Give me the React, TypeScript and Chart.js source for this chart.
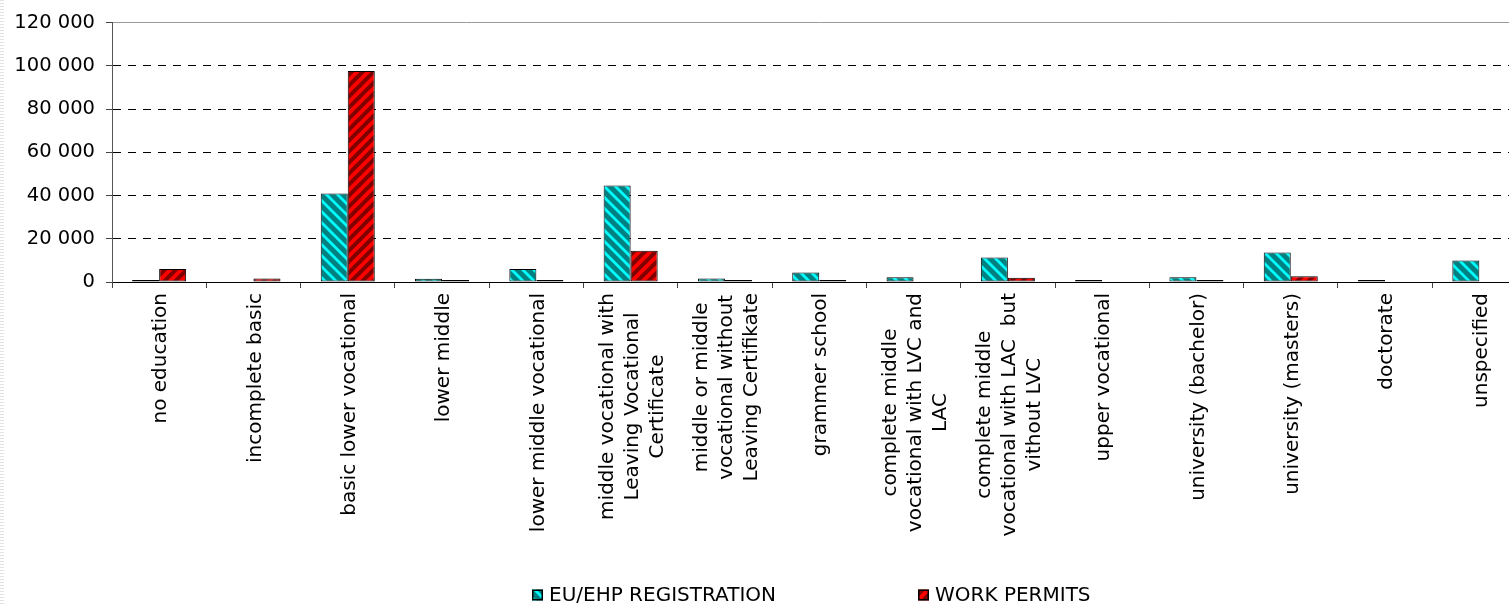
import React, { useEffect, useRef } from "react";
import { Chart, registerables } from "chart.js";

Chart.register(...registerables);

const FONT_FAMILY = '"DejaVu Sans", Verdana, sans-serif';

// Education levels (x categories), pre-wrapped into lines
const categories: string[][] = [
  ["no education"],
  ["incomplete basic"],
  ["basic lower vocational"],
  ["lower middle"],
  ["lower middle vocational"],
  ["middle vocational with", "Leaving Vocational", "Certificate"],
  ["middle or middle", "vocational without", "Leaving Certifikate"],
  ["grammer school"],
  ["complete middle", "vocational with LVC and", "LAC"],
  ["complete middle", "vocational with LAC  but", "vithout LVC"],
  ["upper vocational"],
  ["university (bachelor)"],
  ["university (masters)"],
  ["doctorate"],
  ["unspecified"],
];

const seriesNames = ["EU/EHP REGISTRATION", "WORK PERMITS"];

const euRegistration = [900, 0, 41000, 1500, 6000, 44700, 1600, 4400, 2200, 11300, 900, 2200, 13600, 900, 10000];
const workPermits = [6000, 1650, 97600, 900, 900, 14500, 900, 900, 0, 2000, 0, 900, 2700, 0, 0];

const yTicks = [0, 20000, 40000, 60000, 80000, 100000, 120000];

const formatThousands = (v: number) => String(v).replace(/\B(?=(\d{3})+(?!\d))/g, " ");

function stripePattern(base: string, stripe: string, width: number, dir: "down" | "up"): CanvasPattern | string {
  const S = 11;
  const c = document.createElement("canvas");
  c.width = S;
  c.height = S;
  const g = c.getContext("2d");
  if (!g) return base;
  g.fillStyle = base;
  g.fillRect(0, 0, S, S);
  g.strokeStyle = stripe;
  g.lineWidth = width;
  g.beginPath();
  for (let k = -1; k <= 1; k++) {
    if (dir === "down") {
      g.moveTo(k * S - 1, -1);
      g.lineTo(k * S + S + 1, S + 1);
    } else {
      g.moveTo(k * S - 1, S + 1);
      g.lineTo(k * S + S + 1, -1);
    }
  }
  g.stroke();
  return g.createPattern(c, "repeat") || base;
}

// Rotated, centre-aligned multi-line category labels hung under the x axis
const categoryLabelsPlugin = {
  id: "categoryLabels",
  afterDraw(chart: any) {
    const xs = chart.scales.x;
    const ctx: CanvasRenderingContext2D = chart.ctx;
    const top = chart.chartArea.bottom + 11;
    const lineH = 25;
    ctx.save();
    ctx.font = `20px ${FONT_FAMILY}`;
    ctx.fillStyle = "#000";
    ctx.textAlign = "center";
    ctx.textBaseline = "middle";
    (chart.data.labels as string[][]).forEach((lines, i) => {
      const x = xs.getPixelForTick(i) + 2;
      const maxW = Math.max(...lines.map((l) => ctx.measureText(l).width));
      ctx.save();
      ctx.translate(x, top + maxW / 2);
      ctx.rotate(-Math.PI / 2);
      const n = lines.length;
      lines.forEach((ln, j) => ctx.fillText(ln, 0, (j - (n - 1) / 2) * lineH));
      ctx.restore();
    });
    ctx.restore();
  },
};

// Legend row under the labels
const legendRowPlugin = {
  id: "legendRow",
  afterDraw(chart: any) {
    const ctx: CanvasRenderingContext2D = chart.ctx;
    const startX = 532;
    const gap = 386;
    const cy = 595;
    const box = 11;
    ctx.save();
    ctx.font = `20px ${FONT_FAMILY}`;
    ctx.textAlign = "left";
    ctx.textBaseline = "middle";
    chart.data.datasets.forEach((ds: any, i: number) => {
      const bx = startX + i * gap;
      ctx.fillStyle = ds.backgroundColor;
      ctx.fillRect(bx, cy - box / 2, box, box);
      ctx.strokeStyle = "#000";
      ctx.lineWidth = 1.5;
      ctx.strokeRect(bx + 0.75, cy - box / 2 + 0.75, box - 1.5, box - 1.5);
      ctx.fillStyle = "#000";
      ctx.fillText(ds.label, bx + box + 6, cy + 1);
    });
    ctx.restore();
  },
};

// Faint dotted frame edge on the far left
const frameEdgePlugin = {
  id: "frameEdge",
  beforeDraw(chart: any) {
    const ctx: CanvasRenderingContext2D = chart.ctx;
    ctx.save();
    ctx.fillStyle = "#e2e2e2";
    for (let y = 0; y < chart.height; y += 3) {
      ctx.fillRect(0, y, 4, 1);
    }
    ctx.restore();
  },
};

export default function App() {
  const canvasRef = useRef<HTMLCanvasElement | null>(null);

  useEffect(() => {
    const canvas = canvasRef.current;
    if (!canvas) return;

    const euFill = stripePattern("#008080", "#00ffff", 2.8, "down");
    const wpFill = stripePattern("#800000", "#ff0000", 3.8, "up");

    const chart = new Chart(canvas, {
      type: "bar",
      data: {
        labels: categories as any,
        datasets: [
          {
            label: seriesNames[0],
            data: euRegistration,
            backgroundColor: euFill as any,
            borderColor: "#000",
            borderWidth: 1,
            borderSkipped: false,
            categoryPercentage: 0.573,
            barPercentage: 1.0,
          },
          {
            label: seriesNames[1],
            data: workPermits,
            backgroundColor: wpFill as any,
            borderColor: "#000",
            borderWidth: 1,
            borderSkipped: false,
            categoryPercentage: 0.573,
            barPercentage: 1.0,
          },
        ],
      },
      options: {
        animation: false,
        responsive: false,
        events: [],
        layout: { padding: { left: 0, top: 21, right: 13.5, bottom: 318 } },
        plugins: {
          legend: { display: false },
          tooltip: { enabled: false },
        },
        font: { family: FONT_FAMILY },
        scales: {
          x: {
            type: "category",
            offset: true,
            grid: {
              display: true,
              drawOnChartArea: false,
              drawTicks: true,
              tickLength: 6,
              color: "#444",
              offset: true,
            },
            border: { display: true, color: "#000", width: 1 },
            ticks: { display: false },
            afterFit: (s: any) => {
              s.height = 6;
            },
          },
          y: {
            min: yTicks[0],
            max: yTicks[yTicks.length - 1],
            afterBuildTicks: (s: any) => {
              s.ticks = yTicks.map((v) => ({ value: v }));
            },
            ticks: {
              padding: 11,
              color: "#000",
              font: { size: 19.5, family: FONT_FAMILY },
              callback: (v: any) => formatThousands(Number(v)),
            },
            grid: {
              color: (c: any) => (c.tick && c.tick.value === yTicks[yTicks.length - 1] ? "#9a9a9a" : "#000"),
              tickLength: 6,
              tickColor: "#444",
              drawTicks: true,
            },
            border: {
              display: true,
              color: "#555",
              dash: (c: any) =>
                c.tick && (c.tick.value === yTicks[yTicks.length - 1] || c.tick.value === 0) ? [] : [8, 7],
            },
            afterFit: (s: any) => {
              s.width = 112;
            },
          },
        },
      },
      plugins: [frameEdgePlugin, categoryLabelsPlugin, legendRowPlugin],
    });

    return () => chart.destroy();
  }, []);

  return (
    <div
      style={{
        position: "fixed",
        left: 0,
        top: 0,
        width: 1509,
        height: 606,
        overflow: "hidden",
        background: "#fff",
      }}
    >
      <canvas ref={canvasRef} width={1540} height={606} style={{ display: "block" }} />
    </div>
  );
}
